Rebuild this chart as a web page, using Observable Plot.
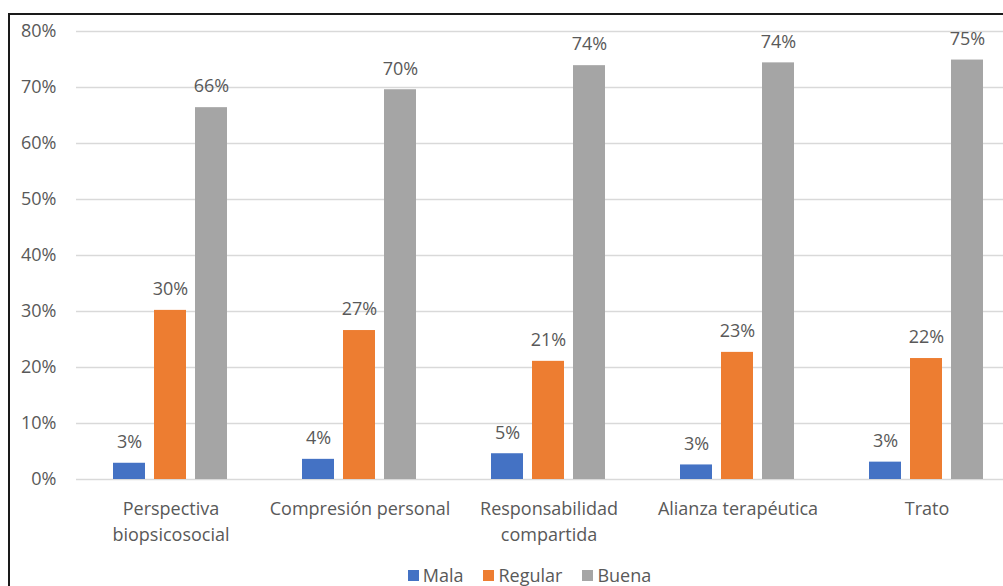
<!DOCTYPE html>
<html>
<head>
<meta charset="utf-8">
<script src="https://cdn.jsdelivr.net/npm/d3@7"></script>
<script src="https://cdn.jsdelivr.net/npm/@observablehq/plot@0.6"></script>
<style>
  html, body { margin: 0; padding: 0; background: #fff; width: 1003px; height: 586px; overflow: hidden; }
  #chart { position: absolute; left: 0; top: 0; }
  #frame { position: absolute; left: 8px; top: 13px; width: 1100px; height: 700px; border: 2px solid #1a1a1a; z-index: 2; pointer-events: none; }
  #legend { position: absolute; top: 563px; left: 0; width: 1059px; display: flex; justify-content: center; gap: 20px;
            font: 18px "Open Sans", sans-serif; color: #595959; line-height: 24px; }
  #legend .item { display: flex; align-items: center; gap: 4px; }
  #legend .sw { width: 11px; height: 11px; display: inline-block; }
</style>
</head>
<body>
<div id="frame"></div>
<div id="chart"></div>
<div id="legend"></div>
<script>
// Dimensions rated in the survey (line breaks as shown under the bars)
const categories = [
  "Perspectiva\nbiopsicosocial",
  "Compresión personal",
  "Responsabilidad\ncompartida",
  "Alianza terapéutica",
  "Trato"
];
const series = ["Mala", "Regular", "Buena"];
const colors = ["#4472C4", "#ED7D31", "#A5A5A5"];

// Share of responses per rating, one value per dimension
const mala    = [0.029, 0.036, 0.046, 0.026, 0.031];
const regular = [0.302, 0.266, 0.211, 0.227, 0.216];
const buena   = [0.664, 0.696, 0.739, 0.744, 0.749];

const yTicks = [0, 0.1, 0.2, 0.3, 0.4, 0.5, 0.6, 0.7, 0.8];

const values = {Mala: mala, Regular: regular, Buena: buena};
const rows = [];
categories.forEach((c, i) => {
  series.forEach(s => rows.push({category: c, series: s, value: values[s][i]}));
});

const pct = d3.format(".0%");
const textColor = "#595959";
const font = "'Open Sans', sans-serif";

const chart = Plot.plot({
  width: 1003,
  height: 560,
  marginTop: 31,
  marginBottom: 81,
  marginLeft: 75,
  marginRight: -19,
  style: {fontFamily: font, fontSize: "18px", color: textColor, background: "transparent"},
  fx: {domain: categories, padding: 0, axis: null},
  x: {domain: series, paddingInner: 0.214, paddingOuter: 0.862, axis: null},
  y: {domain: [0, 0.8], ticks: yTicks, tickFormat: pct, tickSize: 0, tickPadding: 20, label: null},
  color: {domain: series, range: colors},
  marks: [
    Plot.gridY(yTicks, {stroke: "#d9d9d9", strokeOpacity: 1, strokeWidth: 1.3}),
    Plot.barY(rows, {fx: "category", x: "series", y: "value", fill: "series"}),
    Plot.text(rows, {
      fx: "category", x: "series", y: "value",
      text: d => pct(d.value), dy: -21,
      fill: textColor, fontSize: 18
    }),
    Plot.axisFx({
      anchor: "bottom", tickSize: 0, tickPadding: 18, label: null,
      fontSize: 18, lineHeight: 1.4, fill: textColor
    })
  ]
});
document.getElementById("chart").appendChild(chart);

// Legend row under the chart
const legend = document.getElementById("legend");
series.forEach((s, i) => {
  const item = document.createElement("span");
  item.className = "item";
  const sw = document.createElement("span");
  sw.className = "sw";
  sw.style.background = colors[i];
  const label = document.createElement("span");
  label.textContent = s;
  item.append(sw, label);
  legend.appendChild(item);
});
</script>
</body>
</html>
